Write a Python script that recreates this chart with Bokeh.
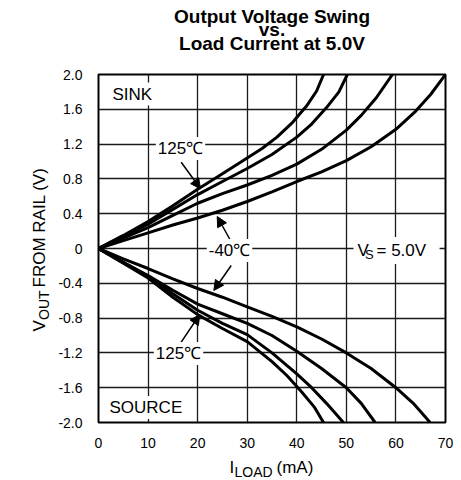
import math
from bokeh.plotting import figure
from bokeh.models import Label, Arrow, NormalHead, FixedTicker, Range1d
from bokeh.embed import file_html
from bokeh.resources import INLINE

# ---------------- data ----------------
x_ticks = [0, 10, 20, 30, 40, 50, 60, 70]
x_tick_labels = ["0", "10", "20", "30", "40", "50", "60", "70"]
y_ticks = [2.0, 1.6, 1.2, 0.8, 0.4, 0.0, -0.4, -0.8, -1.2, -1.6, -2.0]
y_tick_labels = ["2.0", "1.6", "1.2", "0.8", "0.4", "0", "-0.4", "-0.8", "-1.2", "-1.6", "-2.0"]

# SINK (output high side), 125C (steepest) ... -40C
sink_a_x = [0, 5, 10, 15, 20, 25, 30, 33, 36, 39, 42, 44, 45.4]
sink_a_y = [0, 0.15, 0.31, 0.49, 0.68, 0.86, 1.04, 1.15, 1.28, 1.44, 1.64, 1.81, 2.0]
sink_b_x = [0, 5, 10, 15, 20, 25, 30, 35, 40, 43, 46, 48.5, 50.2]
sink_b_y = [0, 0.14, 0.28, 0.45, 0.62, 0.77, 0.92, 1.08, 1.28, 1.43, 1.62, 1.80, 2.0]
sink_c_x = [0, 5, 10, 15, 20, 25, 30, 35, 40, 45, 50, 53, 56, 59.3]
sink_c_y = [0, 0.12, 0.24, 0.38, 0.52, 0.63, 0.73, 0.84, 0.97, 1.14, 1.36, 1.53, 1.73, 2.0]
sink_d_x = [0, 5, 10, 15, 20, 25, 30, 35, 40, 45, 50, 55, 60, 64, 67, 70]
sink_d_y = [0, 0.09, 0.18, 0.27, 0.35, 0.44, 0.54, 0.65, 0.77, 0.88, 1.01, 1.17, 1.37, 1.58, 1.77, 2.0]

# SOURCE (output low side), -40C (shallowest) ... 125C
src_e_x = [0, 5, 10, 15, 20, 25, 30, 35, 40, 45, 50, 55, 60, 63.5, 66.9]
src_e_y = [0, -0.12, -0.23, -0.35, -0.46, -0.56, -0.67, -0.78, -0.90, -1.04, -1.20, -1.38, -1.60, -1.78, -2.0]
src_f_x = [0, 5, 10, 15, 20, 25, 30, 35, 40, 45, 50, 53, 55.8]
src_f_y = [0, -0.16, -0.31, -0.48, -0.64, -0.75, -0.86, -1.0, -1.18, -1.38, -1.60, -1.78, -2.0]
src_g_x = [0, 5, 10, 15, 20, 25, 30, 35, 40, 43, 46, 49.4]
src_g_y = [0, -0.16, -0.32, -0.52, -0.71, -0.86, -0.99, -1.20, -1.44, -1.60, -1.78, -2.0]
src_h_x = [0, 5, 10, 15, 20, 25, 30, 35, 38, 41, 43.5, 45.4]
src_h_y = [0, -0.17, -0.34, -0.56, -0.76, -0.92, -1.07, -1.30, -1.46, -1.65, -1.82, -2.0]

curves = [(sink_a_x, sink_a_y), (sink_b_x, sink_b_y), (sink_c_x, sink_c_y), (sink_d_x, sink_d_y),
          (src_e_x, src_e_y), (src_f_x, src_f_y), (src_g_x, src_g_y), (src_h_x, src_h_y)]

# ---------------- layout ----------------
W, H = 461, 480
BL, BR, BT, BB = 98, 16, 74, 58
FL, FR, FT, FB = BL, W - BR, BT, H - BB      # frame edges in canvas pixels
XMIN, XMAX, YMIN, YMAX = 0, 70, -2, 2


def X(sx):
    return XMIN + (sx - FL) * (XMAX - XMIN) / (FR - FL)


def Y(sy):
    return YMAX - (sy - FT) * (YMAX - YMIN) / (FB - FT)


FONT = "Liberation Sans"

p = figure(width=W, height=H, output_backend="svg", toolbar_location=None,
           x_range=Range1d(XMIN, XMAX), y_range=Range1d(YMIN, YMAX),
           min_border_left=BL, min_border_right=BR, min_border_top=BT, min_border_bottom=BB)
p.background_fill_color = "white"
p.border_fill_color = "white"
p.outline_line_color = "black"
p.outline_line_width = 2

p.xaxis.ticker = FixedTicker(ticks=x_ticks)
p.yaxis.ticker = FixedTicker(ticks=y_ticks)
p.xaxis.major_label_overrides = {t: l for t, l in zip(x_ticks, x_tick_labels)}
p.yaxis.major_label_overrides = {t: l for t, l in zip(y_ticks, y_tick_labels)}
for ax in (p.xaxis, p.yaxis):
    ax.axis_line_color = None
    ax.major_tick_line_color = None
    ax.minor_tick_line_color = None
    ax.major_label_text_font = FONT
    ax.major_label_text_font_size = "14px"
    ax.major_label_text_color = "black"
p.xaxis.major_label_standoff = 9
p.yaxis.major_label_standoff = 10

p.xgrid.ticker = FixedTicker(ticks=x_ticks)
p.ygrid.ticker = FixedTicker(ticks=y_ticks)
for g in (p.xgrid, p.ygrid):
    g.grid_line_color = "#1a1a1a"
    g.grid_line_width = 1.3

for cx, cy in curves:
    p.line(cx, cy, line_width=3, line_color="black", line_join="round")

# arrows (tail -> tip)
for (sx0, sy0, sx1, sy1) in [(180.7, 161.7, 200.0, 188.3),
                             (230.0, 240.0, 216.7, 216.0),
                             (230.7, 265.0, 213.3, 290.0),
                             (180.0, 342.7, 199.3, 314.0)]:
    p.add_layout(Arrow(x_start=X(sx0), y_start=Y(sy0), x_end=X(sx1), y_end=Y(sy1),
                       line_width=1.5, line_color="black",
                       end=NormalHead(size=10, fill_color="black", line_color="black", line_width=1)))


def lab(sx, sy, text, size="17px", align="left", baseline="middle", bold=False, bg=None,
        angle=0.0, pad=2, place="center", line_height=1.2):
    kw = dict(x=X(sx), y=Y(sy), text=text, text_font=FONT, text_font_size=size,
              text_align=align, text_baseline=baseline, text_color="black",
              text_font_style="bold" if bold else "normal", angle=angle,
              text_line_height=line_height)
    if bg:
        kw.update(background_fill_color=bg, padding=pad)
    p.add_layout(Label(**kw), place)


# in-plot annotations
lab(110, 93.5, "SINK", bg="white")
lab(107, 407, "SOURCE", bg="white")
lab(180, 148, "125℃", align="center", bg="white")
lab(178, 353, "125℃", align="center", bg="white")
lab(229, 250, "-40℃", align="center", bg="white")
# V_S = 5.0V
lab(353, 250, "V", bg="white", pad=4)
lab(372, 250, "  = 5.0V", bg="white", pad=4)
lab(364.5, 254, "S", size="13px")

# title (outside the frame, in the top panel)
lab(271.5, 29.5, "Output Voltage Swing\nvs.\nLoad Current at 5.0V", size="19px", align="center",
    baseline="middle", bold=True, place="above", line_height=0.65)

# x axis label  I_LOAD (mA)  (pieces spread over side panels so they are not clipped)
lab(229, 467, "I", baseline="alphabetic", place="right")
lab(234, 471, "LOAD", size="14px", baseline="alphabetic", place="above")
lab(276, 467, "(mA)", baseline="alphabetic", place="below")

# y axis label  V_OUT FROM RAIL (V)  (rotated, reads bottom to top)
rot = math.pi / 2
lab(39, 331, "V", baseline="alphabetic", angle=rot, place="left")
lab(43, 319.5, "OUT", size="14px", baseline="alphabetic", angle=rot, place="left")
lab(39, 287, "FROM RAIL (V)", baseline="alphabetic", angle=rot, place="left")

open("out.html", "w").write(file_html(p, INLINE))
